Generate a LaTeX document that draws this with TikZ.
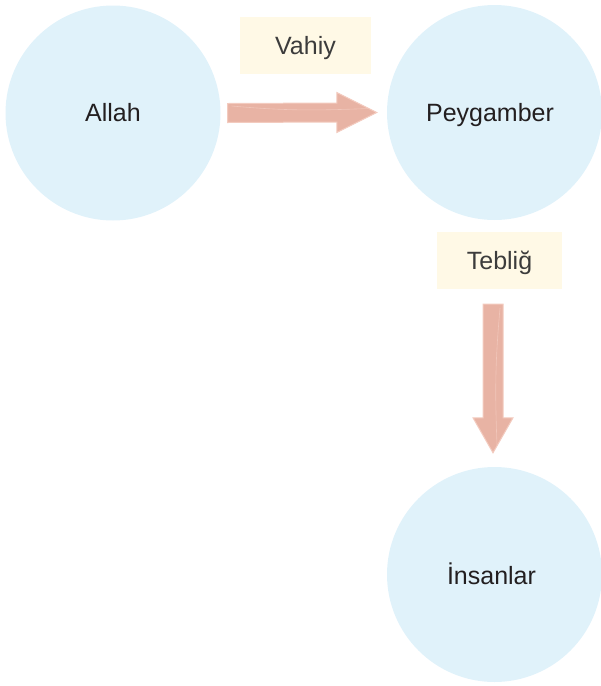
\documentclass[tikz,border=0pt]{standalone}
\usepackage{fontspec}
\setmainfont{Liberation Sans}
\usetikzlibrary{calc}
\definecolor{circfill}{HTML}{E0F2FA}
\definecolor{boxfill}{HTML}{FFF9E6}
\definecolor{arrfill}{HTML}{E8B3A4}
\definecolor{arrline}{HTML}{F3CBBF}
\definecolor{arrshine}{HTML}{F1C6BA}
\definecolor{txtdark}{HTML}{231F20}
\definecolor{txtbox}{HTML}{3C3C3C}
\tikzset{
  captext/.style={text height=17.9pt, text depth=0pt, font=\fontsize{25}{30}\selectfont},
  bubble/.style={circle, fill=circfill, draw=none, minimum size=215pt, inner sep=0pt,
    text=txtdark, captext},
  bubbletext/.style={inner sep=0pt, text=txtdark, captext},
  labelbox/.style={rectangle, fill=boxfill, draw=none, minimum height=57pt, inner sep=0pt,
    text=txtbox, captext},
  fatarrow/.style={fill=arrfill, draw=arrline, line width=1pt, line join=miter},
  shine/.style={draw=arrshine, line width=0.6pt}
}
\begin{document}
\begin{tikzpicture}[x=1pt,y=-1pt]
\useasboundingbox (0,0) rectangle (601,686);
\node[bubble] (allah) at (113,113) {Allah};
\node[bubble] (pey) at (494.5,112.5) {};
\node[bubbletext] (peytxt) at (490,113) {Peygamber};
\node[bubble] (ins) at (494.5,574.5) {};
\node[bubbletext] (instxt) at (491.5,576) {İnsanlar};
\node[labelbox, minimum width=131pt] (vahiy) at (305.5,45.5) {Vahiy};
\node[labelbox, minimum width=125pt] (teb) at (499.5,260.5) {Tebliğ};
% horizontal arrow
\coordinate (h1) at ($(allah.east)+(7,0)$);
\coordinate (h2) at ($(pey.west)+(-10,0)$);
\draw[fatarrow] ($(h1)+(0,-9.5)$) -- ($(h2)+(-40,-9.5)$) -- ($(h2)+(-40,-20)$) -- (h2)
  -- ($(h2)+(-40,20)$) -- ($(h2)+(-40,9.5)$) -- ($(h1)+(0,9.5)$) -- cycle;
\draw[shine] ($(h1)+(4,-7)$) .. controls ($(h1)+(60,-2)$) and ($(h2)+(-60,-2)$) .. ($(h2)+(-8,-4)$);
% vertical arrow
\coordinate (v1) at ($(teb.south)+(-6.5,15)$);
\coordinate (v2) at ($(ins.north)+(-1.5,-14)$);
\draw[fatarrow] ($(v1)+(-10,0)$) -- ($(v2)+(-10,-35)$) -- ($(v2)+(-20,-35)$) -- (v2)
  -- ($(v2)+(20,-35)$) -- ($(v2)+(10,-35)$) -- ($(v1)+(10,0)$) -- cycle;
\draw[shine] ($(v1)+(7,4)$) .. controls ($(v1)+(2,60)$) and ($(v2)+(2,-60)$) .. ($(v2)+(4,-8)$);
\end{tikzpicture}
\end{document}
